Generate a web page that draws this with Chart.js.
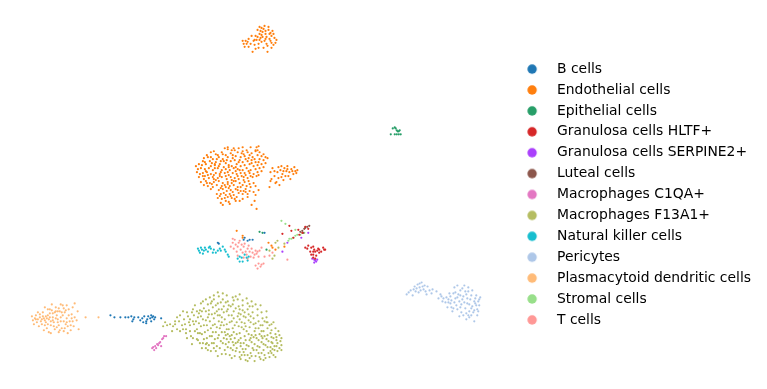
<!DOCTYPE html>
<html lang="en">

<head>
    <meta charset="UTF-8">
    <script src="https://cdn.jsdelivr.net/npm/chart.js@4.4.3/dist/chart.umd.min.js"></script>
    <style>
        html, body { width: 100%; height: 100%; margin: 0; padding: 0; background: #fff; }
        #wrap { width: 767px; height: 389px; }
    </style>
</head>

<body>
    <div id="wrap"><canvas></canvas></div>

    <script>
        const cell_types = ["B cells", "Endothelial cells", "Epithelial cells", "Granulosa cells HLTF+",
            "Granulosa cells SERPINE2+", "Luteal cells", "Macrophages C1QA+", "Macrophages F13A1+",
            "Natural killer cells", "Pericytes", "Plasmacytoid dendritic cells", "Stromal cells", "T cells"];
        const cell_colors = ["#1f77b4", "#ff7f0e", "#279e68", "#d62728", "#aa40fc", "#8c564b", "#e377c2",
            "#b5bd61", "#17becf", "#aec7e8", "#ffbb78", "#98df8a", "#ff9896"];

        // values (embedding units, y grows downward)
        const b_cells = [[110,316],[114,318],[120,318],[125,318],[128,318],[131,317],[133,320],[134,318],[132,322],[138,318],[140,321],[142,319],[144,317],[143,323],[147,320],[148,317],[150,319],[151,316],[152,318],[153,317],[154,320],[151,322],[146,322],[155,318],[161,319],[146,324],[245,238],[248,241],[253,240],[250,240],[244,240],[265,233],[219,244],[218,243]];
        const endothelial = [[225,148],[228,147],[228,149],[234,148],[239,148],[243,147],[251,147],[257,147],[259,146],[256,150],[247,150],[235,150],[211,152],[214,151],[216,154],[222,152],[226,155],[231,153],[238,152],[244,154],[248,152],[252,153],[256,151],[260,152],[207,155],[204,158],[208,157],[213,159],[219,157],[223,159],[228,157],[233,158],[236,156],[241,157],[245,156],[249,158],[253,157],[258,155],[262,156],[266,157],[203,161],[210,161],[216,162],[221,161],[226,163],[231,161],[235,160],[240,160],[243,162],[248,161],[252,160],[256,162],[260,159],[264,160],[268,158],[199,164],[202,165],[206,164],[211,166],[215,165],[220,164],[224,167],[229,165],[232,166],[237,164],[241,166],[245,165],[250,164],[254,166],[258,165],[262,164],[266,163],[196,166],[201,168],[205,169],[209,168],[213,170],[218,168],[222,170],[226,169],[230,170],[234,168],[238,169],[243,170],[247,168],[251,170],[256,169],[260,168],[197,172],[203,173],[207,172],[211,174],[216,173],[220,174],[225,173],[229,175],[233,173],[237,174],[241,173],[246,175],[250,173],[254,174],[258,172],[262,171],[199,177],[205,176],[209,178],[213,177],[218,178],[222,177],[227,179],[231,177],[235,178],[239,179],[244,177],[248,178],[253,177],[257,176],[201,182],[206,181],[210,183],[214,182],[219,181],[223,183],[228,182],[232,183],[236,181],[240,183],[245,182],[249,181],[254,183],[204,185],[208,186],[213,187],[217,185],[222,186],[226,187],[230,186],[234,185],[238,187],[243,185],[247,186],[251,187],[256,186],[219,190],[223,189],[227,191],[231,190],[236,189],[241,191],[246,189],[250,191],[217,194],[221,194],[226,195],[230,194],[234,195],[239,193],[243,194],[248,194],[254,192],[218,198],[222,199],[228,197],[232,198],[237,197],[243,199],[226,201],[221,203],[229,202],[240,201],[248,197],[255,201],[257,209],[252,205],[230,204],[223,205],[235,199],[259,190],[256,195],[211,189],[270,187],[272,179],[271,172],[273,168],[275,176],[276,183],[278,172],[279,178],[280,185],[281,170],[283,174],[284,180],[285,168],[286,176],[287,171],[288,166],[290,172],[291,179],[292,169],[294,174],[295,167],[296,171],[297,173],[282,166],[277,182],[243,40],[245,46],[247,43],[249,46],[251,43],[248,41],[256,35],[257,39],[255,44],[259,43],[261,37],[262,41],[263,31],[264,28],[265,25],[266,33],[267,36],[268,45],[269,29],[270,38],[271,32],[272,42],[273,30],[274,44],[276,42],[277,39],[265,40],[260,33],[258,29],[268,51],[253,51],[264,47],[261,30],[266,30],[272,35],[263,36],[259,47],[275,37],[252,35],[269,26],[255,39],[260,26],[276,250],[273,248],[285,247],[269,243],[272,246],[237,231],[243,236],[243,238],[212,163],[217,159],[224,161],[233,155],[239,162],[246,159],[252,163],[259,162],[206,171],[215,168],[221,172],[228,172],[236,171],[242,176],[249,171],[200,174],[208,175],[214,179],[220,176],[226,176],[232,180],[238,176],[244,180],[251,176],[204,179],[212,184],[216,180],[225,185],[234,181],[241,187],[207,183],[221,188],[229,188],[238,190],[244,191],[224,193],[233,192],[220,196],[225,198],[231,196],[236,201],[246,192],[215,164],[227,160],[218,155],[243,151],[250,155],[255,159],[211,157],[205,162],[198,169],[203,176],[228,184],[236,167],[240,170],[264,167],[259,175],[223,154],[232,150],[242,153],[258,150],[264,154],[214,175],[245,173],[250,184],[229,167],[219,166],[279,167],[284,171],[289,176],[293,171],[282,177],[275,171],[288,169],[271,181],[298,170],[249,38],[254,40],[258,36],[262,34],[266,38],[270,33],[274,33],[262,27],[267,43],[271,40],[256,48],[246,40],[244,43],[260,39],[272,47]];
        const epithelial = [[394,128],[396,127],[397,128],[398,130],[399,131],[400,131],[401,130],[396,134],[398,134],[400,134],[402,134],[392,134],[263,233],[260,232],[267,250]];
        const granulosa_hltf = [[309,229],[306,227],[303,233],[300,235],[294,238],[292,231],[290,226],[283,234],[306,248],[308,249],[312,248],[314,247],[315,250],[316,252],[318,251],[319,249],[320,250],[322,252],[324,248],[325,250],[326,250],[311,252],[312,255],[314,255],[317,256],[314,258],[320,253],[314,252],[316,259],[309,246],[299,230]];
        const granulosa_serpine = [[313,259],[315,260],[316,261],[317,262],[315,263],[318,260],[283,252],[288,243],[309,233],[302,238]];
        const luteal = [[301,232],[303,231],[305,229],[306,228],[308,227],[304,233],[310,226]];
        const macro_c1qa = [[152,349],[153,348],[155,347],[156,349],[157,345],[159,344],[160,343],[162,340],[163,339],[164,337],[161,347],[158,346],[154,351],[166,337]];
        const macro_f13a1 = [[163,327],[165,323],[167,326],[170,325],[173,327],[175,322],[172,332],[177,330],[180,316],[180,332],[184,320],[182,326],[186,330],[187,313],[190,320],[186,334],[190,326],[191,337],[193,310],[195,306],[194,316],[196,322],[197,330],[198,341],[192,345],[199,314],[200,311],[201,304],[203,302],[204,309],[203,320],[204,326],[205,333],[204,340],[206,345],[202,349],[208,318],[208,305],[210,298],[209,311],[210,322],[211,329],[210,337],[212,344],[211,352],[214,300],[213,308],[215,314],[214,319],[215,325],[216,333],[215,340],[217,347],[216,352],[218,293],[219,297],[218,304],[219,310],[220,316],[219,322],[220,329],[219,336],[221,342],[220,349],[222,355],[223,294],[223,300],[224,307],[224,313],[225,320],[224,326],[225,333],[224,339],[226,345],[225,351],[227,296],[228,302],[228,310],[229,316],[230,323],[229,330],[230,337],[229,343],[231,349],[230,356],[233,298],[233,305],[234,312],[234,319],[235,326],[234,333],[235,339],[234,346],[236,352],[235,357],[238,300],[239,307],[239,314],[240,320],[239,327],[240,334],[239,341],[241,347],[240,353],[241,360],[243,306],[243,311],[244,317],[245,324],[244,330],[245,337],[244,344],[246,350],[245,356],[246,361],[248,304],[248,310],[249,315],[249,321],[250,328],[249,335],[250,341],[249,347],[251,354],[250,359],[253,307],[253,313],[254,319],[254,325],[255,332],[254,338],[255,345],[254,351],[256,357],[258,310],[258,316],[259,322],[259,329],[260,335],[259,341],[260,348],[259,354],[261,360],[262,313],[263,319],[263,326],[264,332],[263,339],[264,345],[264,351],[265,356],[267,318],[267,323],[268,329],[268,336],[269,342],[268,348],[269,354],[272,325],[272,331],[272,338],[273,344],[273,350],[274,356],[276,329],[276,335],[277,341],[277,347],[278,352],[280,336],[281,342],[282,339],[282,346],[279,332],[183,312],[197,340],[200,334],[207,339],[212,315],[217,312],[222,318],[227,312],[232,316],[237,323],[242,328],[247,332],[252,336],[257,339],[262,343],[266,346],[271,348],[275,351],[265,337],[256,329],[241,339],[233,329],[226,336],[221,326],[213,326],[208,331],[201,327],[194,325],[189,323],[179,322],[238,343],[243,350],[248,356],[253,349],[258,347],[237,335],[231,340],[227,330],[251,323],[246,318],[241,315],[236,309],[231,307],[226,303],[221,303],[216,306],[211,304],[206,312],[201,317],[197,312],[192,313],[247,299],[240,295],[236,297],[261,306],[267,312],[274,323],[198,334],[203,344],[209,346],[214,349],[218,339],[223,344],[228,348],[233,351],[242,356],[247,346],[252,343],[260,358],[266,359],[272,354],[262,332],[268,323],[271,334],[277,338],[280,349],[285,244],[279,248],[276,243],[270,251],[275,256],[273,259],[278,241],[177,318],[183,330],[188,317],[193,322],[195,332],[199,324],[202,335],[207,326],[206,349],[212,337],[217,328],[222,333],[227,340],[232,336],[236,344],[242,323],[246,327],[251,317],[256,324],[261,326],[265,322],[270,326],[274,339],[278,344],[282,351],[276,358],[270,358],[264,361],[255,362],[248,362],[240,358],[232,359],[226,355],[218,357],[214,344],[208,351],[213,333],[206,321],[198,318],[190,332],[185,325],[175,325],[193,339],[200,344],[187,339],[207,344],[222,310],[214,296],[212,302],[206,300],[229,306],[234,301],[243,301],[252,302],[256,305],[250,307],[245,313],[240,310],[232,322],[238,317],[227,325],[222,323],[218,316],[209,315],[202,312],[256,336],[251,339],[246,341],[241,344],[237,349],[233,343],[228,335],[262,337],[267,340],[272,343],[275,347],[271,352],[262,354],[257,351],[252,357],[244,353]];
        const nk_cells = [[198,249],[199,251],[200,253],[201,248],[202,250],[203,254],[204,251],[205,248],[206,250],[208,252],[209,248],[210,247],[211,249],[213,253],[214,250],[216,253],[218,251],[220,249],[221,251],[223,247],[225,250],[226,252],[228,255],[229,257],[238,259],[240,257],[242,258],[243,262],[247,258],[248,261],[245,255],[240,262],[249,257]];
        const pericytes = [[408,295],[410,293],[412,291],[414,296],[415,290],[416,287],[418,289],[419,285],[420,293],[421,288],[422,291],[423,283],[424,287],[425,290],[426,286],[428,295],[429,287],[431,291],[434,290],[438,292],[440,299],[443,297],[444,302],[447,303],[448,298],[450,300],[451,294],[452,304],[453,301],[453,308],[455,294],[456,288],[457,299],[458,306],[459,310],[459,286],[460,295],[461,302],[462,291],[463,305],[464,289],[465,297],[466,303],[467,309],[468,295],[469,299],[470,292],[471,305],[471,312],[472,300],[473,296],[474,307],[475,313],[476,302],[477,299],[478,306],[479,310],[480,302],[481,300],[482,298],[465,316],[468,320],[473,316],[476,322],[479,316],[480,312],[463,313],[471,318],[449,308],[442,295],[450,303],[455,309],[417,292],[421,284],[427,292],[433,294],[445,299],[452,297],[456,303],[459,298],[462,308],[464,300],[467,292],[469,304],[473,309],[476,311],[478,296],[481,306],[468,314],[461,317],[457,293],[454,312],[466,286],[470,288],[474,291],[477,304],[462,296],[470,316]];
        const pdc = [[31,317],[32,321],[33,325],[34,319],[35,316],[36,323],[37,320],[38,327],[39,315],[40,322],[41,325],[42,313],[43,319],[44,308],[45,317],[45,323],[46,329],[47,310],[48,320],[49,314],[50,326],[51,311],[52,318],[53,323],[54,330],[55,308],[56,316],[57,320],[58,326],[59,312],[60,318],[61,329],[62,306],[63,322],[64,313],[65,325],[66,319],[67,334],[68,310],[69,322],[70,331],[71,315],[72,308],[73,327],[74,318],[76,321],[77,312],[78,330],[74,304],[66,306],[60,305],[85,318],[98,318],[50,334],[58,333],[51,305],[43,331],[48,333],[63,332],[70,326],[37,313],[54,313],[47,316],[42,317],[57,312],[35,320],[39,318],[41,320],[44,321],[46,319],[49,318],[52,321],[55,319],[57,323],[60,322],[62,316],[65,311],[68,316],[71,319],[50,322],[47,325],[44,326],[53,327],[56,328],[59,331],[64,329],[66,323],[72,322],[52,314],[58,309],[63,309],[49,310],[55,312],[61,313],[67,327]];
        const stromal = [[282,221],[286,224],[290,239],[289,241],[292,239],[294,238],[296,236],[298,235],[301,235],[303,233],[296,230],[305,233]];
        const t_cells = [[231,247],[233,243],[234,249],[235,240],[236,245],[237,252],[238,247],[239,243],[240,241],[241,250],[242,245],[243,253],[244,247],[245,244],[246,252],[247,255],[248,249],[249,246],[250,252],[251,257],[252,249],[253,253],[254,258],[255,255],[256,251],[257,254],[258,252],[259,257],[260,251],[262,248],[256,266],[258,269],[259,264],[261,267],[262,265],[264,264],[265,257],[270,256],[273,253],[288,260],[233,239],[244,258],[248,259],[238,256]];

        const cell_points = [b_cells, endothelial, epithelial, granulosa_hltf, granulosa_serpine, luteal,
            macro_c1qa, macro_f13a1, nk_cells, pericytes, pdc, stromal, t_cells];

        function legend_dot(color) {
            let dot = document.createElement("canvas");
            dot.width = 12;
            dot.height = 12;
            let dot_ctx = dot.getContext("2d");
            dot_ctx.fillStyle = color;
            dot_ctx.beginPath();
            dot_ctx.arc(6, 6, 4.7, 0, Math.PI * 2);
            dot_ctx.fill();
            return dot;
        }

        let chartjs = new Chart(document.querySelector("canvas"), {
            type: "scatter",
            data: {
                datasets: cell_types.map((name, i) => ({
                    label: name,
                    data: cell_points[i].map(p => ({ x: p[0], y: p[1] })),
                    backgroundColor: cell_colors[i],
                    borderWidth: 0,
                    pointRadius: 1.1,
                    pointHoverRadius: 1.1
                }))
            },
            options: {
                responsive: true,
                maintainAspectRatio: false,
                animation: false,
                layout: { padding: { left: 0, right: 6, top: 0, bottom: 0 } },
                scales: {
                    x: { type: "linear", display: false, min: 0, max: 509 },
                    y: { type: "linear", display: false, reverse: true, min: 0, max: 389 }
                },
                plugins: {
                    tooltip: { enabled: false },
                    legend: {
                        position: "right",
                        align: "center",
                        labels: {
                            color: "#000",
                            font: { family: "DejaVu Sans", size: 13.9 },
                            usePointStyle: true,
                            pointStyleWidth: 36,
                            padding: 7,
                            generateLabels: chart => chart.data.datasets.map((dataset, i) => ({
                                text: dataset.label,
                                pointStyle: legend_dot(cell_colors[i]),
                                fontColor: "#000",
                                lineWidth: 0,
                                datasetIndex: i
                            }))
                        }
                    }
                }
            }
        });
    </script>
</body>

</html>
